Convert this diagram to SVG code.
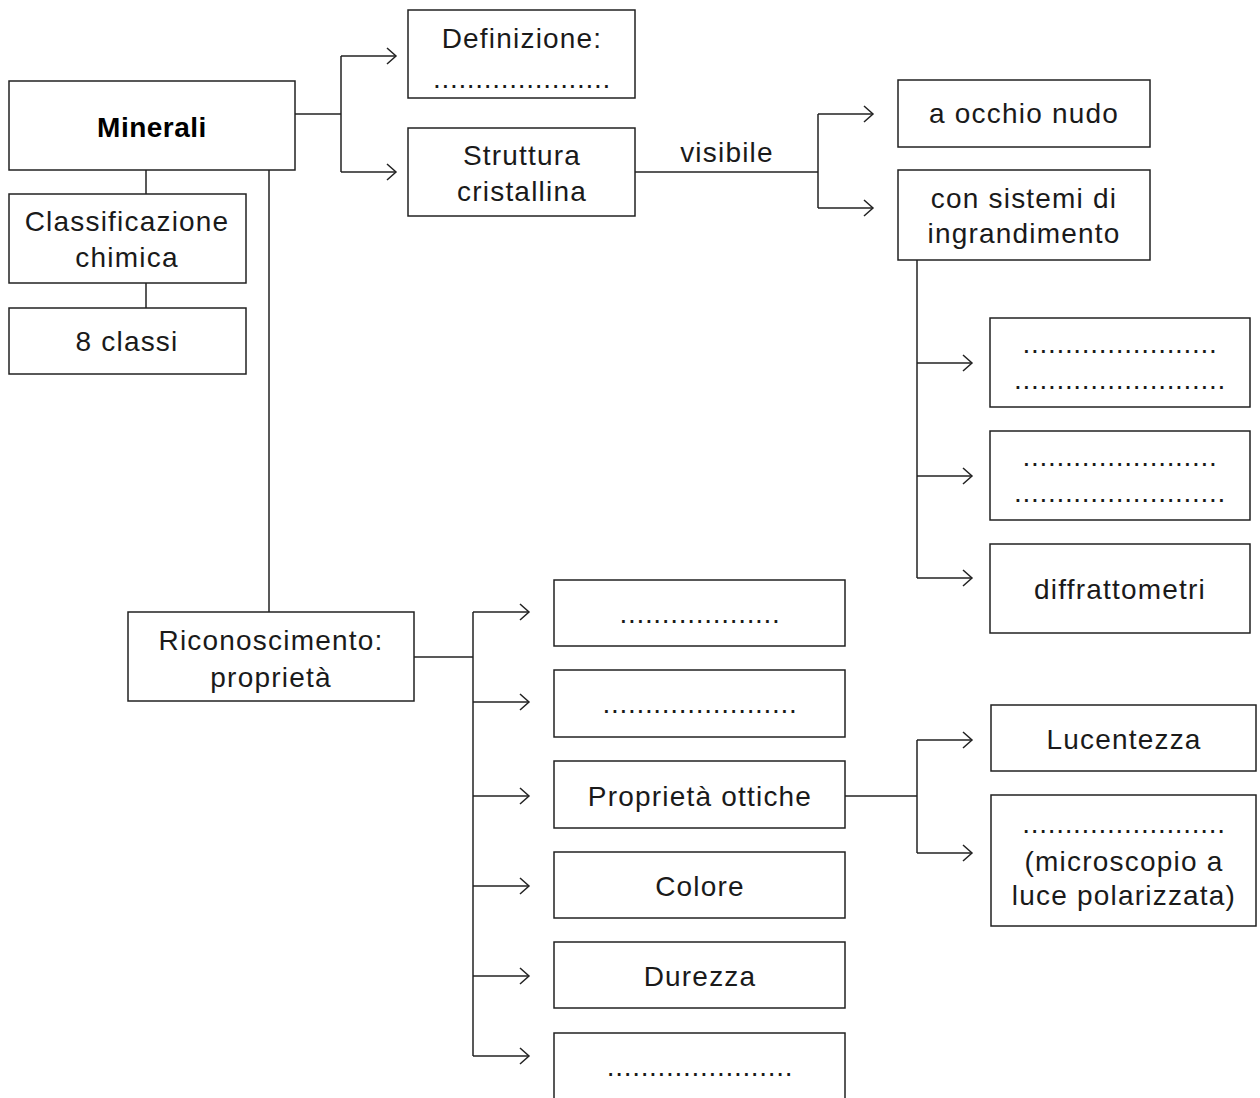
<svg xmlns="http://www.w3.org/2000/svg" width="1260" height="1098" viewBox="0 0 1260 1098">
<style>
.box{fill:#fff;stroke:#222;stroke-width:1.5}
.t{font-family:"Liberation Sans",Arial,sans-serif;font-size:28px;fill:#1a1a1a;text-anchor:middle;letter-spacing:1.2px}
.b{font-weight:bold;letter-spacing:0.5px;fill:#000}
.d{font-family:"Liberation Sans",Arial,sans-serif;font-size:28px;fill:#1a1a1a;text-anchor:middle;letter-spacing:0.7px}
.c{fill:none;stroke:#222;stroke-width:1.5}
</style>
<defs>
<marker id="arr" markerWidth="12" markerHeight="18" refX="10" refY="9" orient="auto" markerUnits="userSpaceOnUse">
<path d="M1,1 L10,9 L1,17" fill="none" stroke="#222" stroke-width="1.5"/>
</marker>
</defs>
<g id="connectors" class="c">
<line x1="146" y1="170" x2="146" y2="194"/>
<line x1="146" y1="283" x2="146" y2="308"/>
<line x1="269" y1="170" x2="269" y2="612"/>
<line x1="295" y1="114" x2="341" y2="114"/>
<line x1="341" y1="56" x2="341" y2="172"/>
<line x1="341" y1="56" x2="396" y2="56" marker-end="url(#arr)"/>
<line x1="341" y1="172" x2="396" y2="172" marker-end="url(#arr)"/>
<line x1="635" y1="172" x2="818" y2="172"/>
<line x1="818" y1="114" x2="818" y2="208"/>
<line x1="818" y1="114" x2="873" y2="114" marker-end="url(#arr)"/>
<line x1="818" y1="208" x2="873" y2="208" marker-end="url(#arr)"/>
<line x1="917" y1="260" x2="917" y2="578"/>
<line x1="917" y1="363" x2="972" y2="363" marker-end="url(#arr)"/>
<line x1="917" y1="476" x2="972" y2="476" marker-end="url(#arr)"/>
<line x1="917" y1="578" x2="972" y2="578" marker-end="url(#arr)"/>
<line x1="414" y1="657" x2="473" y2="657"/>
<line x1="473" y1="612" x2="473" y2="1056"/>
<line x1="473" y1="612" x2="529" y2="612" marker-end="url(#arr)"/>
<line x1="473" y1="702" x2="529" y2="702" marker-end="url(#arr)"/>
<line x1="473" y1="796" x2="529" y2="796" marker-end="url(#arr)"/>
<line x1="473" y1="886" x2="529" y2="886" marker-end="url(#arr)"/>
<line x1="473" y1="976" x2="529" y2="976" marker-end="url(#arr)"/>
<line x1="473" y1="1056" x2="529" y2="1056" marker-end="url(#arr)"/>
<line x1="845" y1="796" x2="917" y2="796"/>
<line x1="917" y1="740" x2="917" y2="853"/>
<line x1="917" y1="740" x2="972" y2="740" marker-end="url(#arr)"/>
<line x1="917" y1="853" x2="972" y2="853" marker-end="url(#arr)"/>
</g>
<g id="minerali"><rect class="box" x="9" y="81" width="286" height="89"/><text class="t b" x="152" y="137">Minerali</text></g>
<g id="classificazione"><rect class="box" x="9" y="194" width="237" height="89"/><text class="t" x="127" y="231">Classificazione</text><text class="t" x="127" y="267">chimica</text></g>
<g id="classi"><rect class="box" x="9" y="308" width="237" height="66"/><text class="t" x="127" y="351">8 classi</text></g>
<g id="definizione"><rect class="box" x="408" y="10" width="227" height="88"/><text class="t" x="522" y="48">Definizione:</text><text class="d" x="522" y="88">.....................</text></g>
<g id="struttura"><rect class="box" x="408" y="128" width="227" height="88"/><text class="t" x="522" y="165">Struttura</text><text class="t" x="522" y="201">cristallina</text></g>
<g id="visibile-label"><text class="t" x="727" y="162">visibile</text></g>
<g id="occhio"><rect class="box" x="898" y="80" width="252" height="67"/><text class="t" x="1024" y="123">a occhio nudo</text></g>
<g id="sistemi"><rect class="box" x="898" y="170" width="252" height="90"/><text class="t" x="1024" y="208">con sistemi di</text><text class="t" x="1024" y="243">ingrandimento</text></g>
<g id="dots1"><rect class="box" x="990" y="318" width="260" height="89"/><text class="d" x="1120" y="353">.......................</text><text class="d" x="1120" y="389">.........................</text></g>
<g id="dots2"><rect class="box" x="990" y="431" width="260" height="89"/><text class="d" x="1120" y="466">.......................</text><text class="d" x="1120" y="502">.........................</text></g>
<g id="diffrattometri"><rect class="box" x="990" y="544" width="260" height="89"/><text class="t" x="1120" y="599">diffrattometri</text></g>
<g id="riconoscimento"><rect class="box" x="128" y="612" width="286" height="89"/><text class="t" x="271" y="650">Riconoscimento:</text><text class="t" x="271" y="687">proprietà</text></g>
<g id="prop1"><rect class="box" x="554" y="580" width="291" height="66"/><text class="d" x="700" y="623">...................</text></g>
<g id="prop2"><rect class="box" x="554" y="670" width="291" height="67"/><text class="d" x="700" y="713">.......................</text></g>
<g id="ottiche"><rect class="box" x="554" y="761" width="291" height="67"/><text class="t" x="700" y="806">Proprietà ottiche</text></g>
<g id="colore"><rect class="box" x="554" y="852" width="291" height="66"/><text class="t" x="700" y="896">Colore</text></g>
<g id="durezza"><rect class="box" x="554" y="942" width="291" height="66"/><text class="t" x="700" y="986">Durezza</text></g>
<g id="prop6"><rect class="box" x="554" y="1033" width="291" height="80"/><text class="d" x="700" y="1076">......................</text></g>
<g id="lucentezza"><rect class="box" x="991" y="705" width="265" height="66"/><text class="t" x="1124" y="749">Lucentezza</text></g>
<g id="microscopio"><rect class="box" x="991" y="795" width="265" height="131"/><text class="d" x="1124" y="833">........................</text><text class="t" x="1124" y="871">(microscopio a</text><text class="t" x="1124" y="905">luce polarizzata)</text></g>
</svg>
